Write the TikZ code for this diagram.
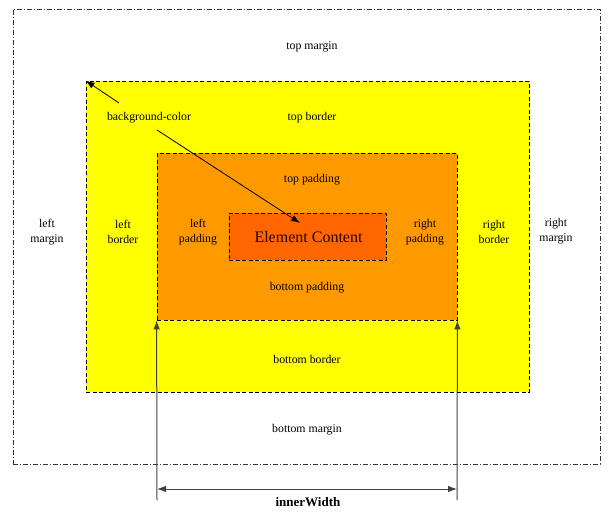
\documentclass[tikz,border=0pt]{standalone}
\usepackage{fontspec}
\setmainfont{Liberation Serif}
\usetikzlibrary{arrows.meta}
\definecolor{boxyellow}{HTML}{FFFF00}
\definecolor{boxorange}{HTML}{FF9900}
\definecolor{boxcontent}{HTML}{FF6600}
\begin{document}
\begin{tikzpicture}[x=1pt,y=-1pt,
  region/.style={draw=black, dash pattern=on 4pt off 2.5pt, line width=0.8pt, inner sep=0pt},
  lbl/.style={font=\fontsize{11.8}{14.5}\selectfont, align=center, inner sep=0pt},
  tip/.style={-{Latex[length=9pt,width=6.5pt]}},
  dim/.style={draw=black!75, line width=1pt}]
\useasboundingbox (0,0) rectangle (610,512);
\node[draw=black!80, dash pattern=on 5pt off 2pt on 1pt off 2pt, line width=0.6pt, inner sep=0pt,
  minimum width=587pt, minimum height=455pt] (outer) at (306.5,236.5) {};
\node[region, fill=boxyellow, minimum width=443pt, minimum height=311pt] (border) at (307.5,236.5) {};
\node[region, fill=boxorange, minimum width=300pt, minimum height=167pt] (padding) at (307,236.5) {};
\node[region, fill=boxcontent, minimum width=157pt, minimum height=47pt] (content) at (307.5,236.5) {};
\node[font=\fontsize{16}{18}\selectfont, inner sep=0pt, text=black!85!red] (ctext) at (308.5,237.5) {Element Content};

\node[lbl] (tm) at (312,46.5) {top margin};
\node[lbl] (tb) at (312,117.5) {top border};
\node[lbl] (tp) at (312,179.5) {top padding};
\node[lbl] (bp) at (307,287.5) {bottom padding};
\node[lbl] (bb) at (307,359.5) {bottom border};
\node[lbl] (bm) at (307,429.5) {bottom margin};
\node[lbl] (lm) at (47,232) {left\\margin};
\node[lbl] (lb) at (123,232) {left\\border};
\node[lbl] (lp) at (198,232) {left\\padding};
\node[lbl] (rp) at (425,232) {right\\padding};
\node[lbl] (rb) at (494,232) {right\\border};
\node[lbl] (rm) at (556,231) {right\\margin};
\node[lbl] (bgc) at (149,117.5) {background-color};

\coordinate (a1) at (119,103);
\coordinate (a2) at (157,130);
\coordinate (a3) at (300,223);
\draw[tip, line width=0.8pt] (a1) -- (border.north west);
\draw[tip, line width=0.8pt] (a2) -- (a3);

\coordinate (vl) at (157,500);
\coordinate (vr) at (457,500);
\coordinate (hl) at (157,489);
\coordinate (hr) at (457,489);
\draw[dim, tip] (vl) -- (padding.south west);
\draw[dim, tip] (vr) -- (padding.south east);
\draw[dim, {Latex[length=9pt,width=6.5pt]}-{Latex[length=9pt,width=6.5pt]}] (hl) -- (hr);
\node[font=\fontsize{13}{15}\selectfont\bfseries, inner sep=0pt] (iw) at (308,502.5) {innerWidth};
\end{tikzpicture}
\end{document}
